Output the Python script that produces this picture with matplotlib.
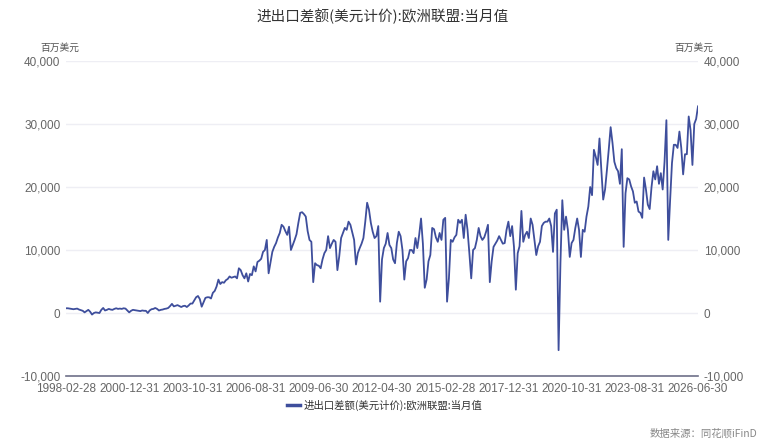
import matplotlib
matplotlib.use("Agg")
import matplotlib.pyplot as plt
from matplotlib.ticker import FuncFormatter, FixedLocator

plt.rcParams['font.family'] = ['Noto Sans CJK SC', 'DejaVu Sans']

title = "进出口差额(美元计价):欧洲联盟:当月值"
unit = "百万美元"
series_name = "进出口差额(美元计价):欧洲联盟:当月值"
source = "数据来源：同花顺iFinD"

tick_labels = ["1998-02-28", "2000-12-31", "2003-10-31", "2006-08-31", "2009-06-30",
               "2012-04-30", "2015-02-28", "2017-12-31", "2020-10-31", "2023-08-31",
               "2026-06-30"]

# monthly values (million USD), 1998-02 .. 2026-06
values = [
    # 0-9
    750, 750, 700, 650, 600, 650, 700, 550, 450, 350,
    # 10-19
    100, 300, 500, 200, -250, 0, 100, 50, 0, 500,
    # 20-29
    800, 400, 500, 650, 550, 500, 650, 750, 650, 700,
    # 30-39
    650, 750, 700, 400, 100, 350, 500, 450, 400, 350,
    # 40-49
    300, 400, 350, 350, 0, 400, 600, 650, 800, 650,
    # 50-59
    400, 500, 550, 650, 700, 800, 1100, 1450, 1050, 1150,
    # 60-69
    1250, 1100, 950, 1100, 1150, 950, 1200, 1500, 1500, 2000,
    # 70-79
    2500, 2700, 2200, 1000, 1700, 2400, 2500, 2500, 2300, 3200,
    # 80-89
    3500, 4200, 5300, 4600, 4900, 4800, 5200, 5400, 5800, 5600,
    # 90-99
    5700, 5800, 5500, 7100, 6800, 6000, 5500, 6300, 5000, 6200,
    # 100-109
    6000, 7400, 6600, 8100, 8300, 8600, 9700, 10000, 11600, 6300,
    # 110-119
    8000, 9700, 10500, 11100, 12000, 12700, 14000, 13700, 13000, 12400,
    # 120-129
    13700, 10000, 10800, 11600, 12500, 14300, 15900, 16000, 15700, 15300,
    # 130-139
    13000, 11600, 11300, 4900, 7900, 7600, 7500, 7100, 8500, 9500,
    # 140-149
    10000, 12200, 10300, 11000, 11600, 11300, 6800, 9000, 11900, 12700,
    # 150-159
    13500, 13200, 14500, 14000, 12800, 11600, 7700, 9500, 10300, 11000,
    # 160-169
    11900, 14500, 17500, 16400, 14300, 12900, 11900, 12200, 13800, 1800,
    # 170-179
    8500, 10300, 11000, 12700, 10800, 10300, 8500, 7900, 11100, 12900,
    # 180-189
    12200, 10000, 5300, 8200, 8700, 10000, 10000, 9500, 11900, 10300,
    # 190-199
    12400, 15000, 11000, 4000, 5300, 8200, 9200, 13500, 13300, 12000,
    # 200-209
    11300, 12700, 11600, 14800, 15100, 1800, 5500, 11600, 11300, 12000,
    # 210-219
    12400, 14800, 14300, 14800, 11900, 15600, 13200, 9500, 5500, 10000,
    # 220-229
    10300, 11600, 13500, 12200, 11600, 12000, 12900, 14000, 4900, 8200,
    # 230-239
    10500, 11000, 11500, 12200, 11600, 11000, 11100, 13200, 14500, 12200,
    # 240-249
    13800, 10500, 3700, 9500, 10600, 16200, 11300, 12400, 12900, 11900,
    # 250-259
    15000, 14000, 11600, 9200, 10600, 11300, 13800, 14300, 14500, 14500,
    # 260-269
    15000, 13800, 9700, 15800, 16400, -5900, 8000, 17900, 13200, 15300,
    # 270-279
    13200, 8900, 11100, 11600, 13500, 15000, 13200, 8900, 13200, 12900,
    # 280-289
    15300, 16900, 20000, 18700, 25900, 24800, 23500, 27700, 22700, 18000,
    # 290-299
    19600, 22700, 26000, 29500, 27000, 24000, 23000, 22500, 20500, 26000,
    # 300-309
    10500, 19000, 21400, 21200, 20100, 19300, 17500, 17700, 16100, 15900,
    # 310-319
    15100, 21500, 19600, 17200, 16500, 20000, 22500, 21200, 23300, 20500,
    # 320-329
    22200, 19600, 24000, 30600, 11600, 17900, 23800, 26700, 26700, 26200,
    # 330-340
    28800, 26200, 22000, 25200, 25200, 31200, 29000, 23500, 30000, 30800, 32800,
]

y_ticks = [-10000, 0, 10000, 20000, 30000, 40000]

W, H = 766, 444
fig = plt.figure(figsize=(W / 100, H / 100), dpi=100)
fig.patch.set_facecolor("white")

left, right, top, bottom = 66, 698, 61, 376
ax = fig.add_axes([left / W, 1 - bottom / H, (right - left) / W, (bottom - top) / H])

line_color = "#3E4E9C"
x = list(range(len(values)))
ax.plot(x, values, color=line_color, linewidth=1.3, solid_joinstyle="round")

ax.set_xlim(0, len(values) - 1)
ax.set_ylim(-10000, 40000)
ax.set_yticks(y_ticks)
ax.yaxis.set_major_formatter(FuncFormatter(lambda v, p: f"{int(v):,}"))
n_int = len(tick_labels) - 1
step = (len(values) - 1) / n_int
ax.xaxis.set_major_locator(FixedLocator([i * step for i in range(len(tick_labels))]))
ax.set_xticklabels(tick_labels)

ax.grid(axis="y", color="#EEEEF4", linewidth=1)
ax.set_axisbelow(True)
for s in ["top", "left", "right"]:
    ax.spines[s].set_visible(False)
ax.spines["bottom"].set_color("#6E7089")
ax.spines["bottom"].set_linewidth(1.2)

ax.tick_params(axis="x", length=0, pad=5, labelsize=8, labelcolor="#666666")
ax.tick_params(axis="y", length=0, pad=4, labelsize=8, labelcolor="#666666",
               labelright=True, right=False)
for lab in ax.get_xticklabels() + ax.get_yticklabels():
    lab.set_family(["Liberation Sans", "DejaVu Sans"])
    lab.set_fontsize(8.5)

# unit labels
fig.text(60 / W, 1 - 48 / H, unit, ha="center", va="center", fontsize=7, color="#555555")
fig.text(694 / W, 1 - 48 / H, unit, ha="center", va="center", fontsize=7, color="#555555")

# title
fig.text(383 / W, 1 - 16 / H, title, ha="center", va="center", fontsize=10.5, color="#333333")

# legend
fig.lines.append(plt.Line2D([287 / W, 300 / W], [1 - 405 / H, 1 - 405 / H],
                            transform=fig.transFigure, color=line_color, linewidth=2.5))
fig.text(304 / W, 1 - 405 / H, series_name, ha="left", va="center", fontsize=7.5, color="#333333")

# source
fig.text(757 / W, 1 - 434 / H, source, ha="right", va="center", fontsize=7.5, color="#888888")

fig.savefig("out.png", dpi=100, facecolor="white")
